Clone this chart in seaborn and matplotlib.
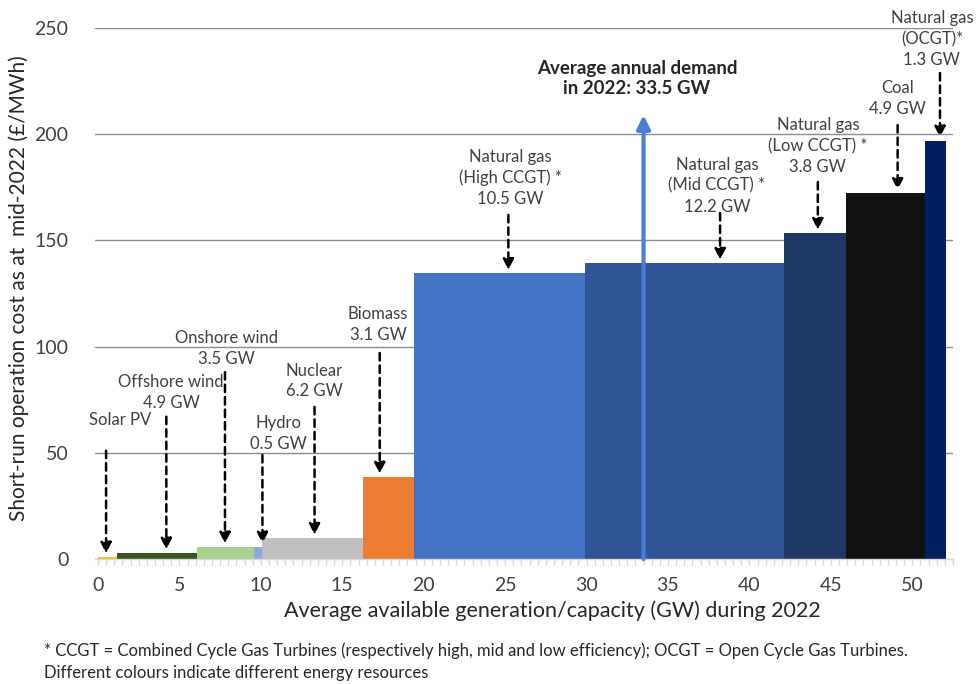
import numpy as np
import seaborn as sns
from matplotlib import pyplot as plt
from matplotlib.ticker import MultipleLocator

sns.set_theme(style="white")
plt.rcParams['font.family'] = ['Lato', 'DejaVu Sans']

# Merit order data
sources = ["Solar PV", "Offshore wind", "Onshore wind", "Hydro", "Nuclear", "Biomass",
           "Natural gas (High CCGT)", "Natural gas (Mid CCGT)", "Natural gas (Low CCGT)",
           "Coal", "Natural gas (OCGT)"]
capacity_gw = [1.2, 4.9, 3.5, 0.5, 6.2, 3.1, 10.5, 12.2, 3.8, 4.9, 1.3]
cost_gbp_mwh = [1.1, 3.0, 5.8, 5.8, 9.9, 38.7, 134.6, 139.4, 153.5, 172.3, 197.0]
colors = ["#FFC000", "#375623", "#A9D18E", "#8FAADC", "#BFBFBF", "#ED7D31",
          "#4472C4", "#2F5597", "#203864", "#111111", "#002060"]
labels = ["Solar PV", "Offshore wind\n4.9 GW", "Onshore wind\n3.5 GW", "Hydro\n0.5 GW",
          "Nuclear\n6.2 GW", "Biomass\n3.1 GW", "Natural gas\n(High CCGT) *\n10.5 GW",
          "Natural gas\n(Mid CCGT) *\n12.2 GW", "Natural gas\n(Low CCGT) *\n3.8 GW",
          "Coal\n4.9 GW", "Natural gas\n(OCGT)*\n1.3 GW"]
demand_gw = 33.5

# annotation layout: text centre, arrow x, arrow tail y
text_xy = [(1.35, 65.4), (4.5, 78.4), (7.9, 98.9), (11.1, 58.9), (13.3, 83.8), (17.2, 110.6),
           (25.3, 179.4), (38.0, 175.8), (44.2, 194.4), (49.1, 216.6), (51.2, 244.6)]
arrow_x = [0.5, 4.2, 7.8, 10.1, 13.3, 17.3, 25.2, 38.2, 44.2, 49.1, 51.7]
arrow_tail = [51, 67, 88, 49, 71.6, 97, 162, 162.9, 177.5, 204.3, 228.8]

edges = np.concatenate([[0], np.cumsum(capacity_gw)])

fig = plt.figure(figsize=(9.76, 6.84), dpi=100)
ax = fig.add_axes([95 / 976, 1 - 559 / 684, 858 / 976, 531 / 684])

# one weighted single-bin histogram per resource gives a variable-width bar
for i, (src, c, col) in enumerate(zip(sources, cost_gbp_mwh, colors)):
    lo, hi = float(edges[i]), float(edges[i + 1])
    sns.histplot(x=[(lo + hi) / 2], weights=[c], bins=[lo, hi], color=col,
                 alpha=1, linewidth=0, ax=ax, zorder=2, label=src)

ax.set_xlim(-0.18, 52.5)
ax.set_ylim(0, 250)
ax.set_axisbelow(True)
ax.grid(axis='y', color='#8C8C8C', lw=1)
ax.grid(axis='x', visible=False)
for s in ["top", "right", "left"]:
    ax.spines[s].set_visible(False)
ax.spines["bottom"].set_color("#D9D9D9")
ax.spines["bottom"].set_linewidth(1)

ax.xaxis.set_major_locator(MultipleLocator(5))
ax.xaxis.set_minor_locator(MultipleLocator(0.5))
ax.yaxis.set_major_locator(MultipleLocator(50))
ax.tick_params(axis='x', which='both', bottom=True, length=4, width=1, color='#D9D9D9',
               labelsize=14, labelcolor='#404040', pad=9)
ax.tick_params(axis='y', left=False, labelsize=14, labelcolor='#404040', pad=13)

ax.set_xlabel("Average available generation/capacity (GW) during 2022", fontsize=15.5, color='#262626')
ax.xaxis.set_label_coords((552 - 95) / 858, -0.078)
ax.set_ylabel("Short-run operation cost as at  mid-2022 (£/MWh)", fontsize=15, color='#262626')
ax.yaxis.set_label_coords(-0.077, 0.51)

# labelled dashed arrows down to each bar
for lbl, (tx, ty), ax_x, tail, c in zip(labels, text_xy, arrow_x, arrow_tail, cost_gbp_mwh):
    ax.text(tx, ty, lbl, ha='center', va='center', fontsize=12, color='#404040',
            linespacing=1.38, clip_on=False)
    ax.annotate("", xy=(ax_x, c + 1.5), xytext=(ax_x, tail),
                arrowprops=dict(arrowstyle="-|>", color="black", lw=1.8,
                                linestyle=(0, (3, 2)), mutation_scale=16,
                                shrinkA=0, shrinkB=0), zorder=4)

# average demand arrow
ax.annotate("", xy=(demand_gw, 209), xytext=(demand_gw, 0),
            arrowprops=dict(arrowstyle="-|>", color="#4A7DD6", lw=3.0,
                            mutation_scale=20, shrinkA=0, shrinkB=0), zorder=5)
ax.text(33.1, 226.2, f"Average annual demand\nin 2022: {demand_gw} GW", ha='center',
        va='center', fontsize=13.5, fontweight='bold', color='#262626', linespacing=1.25)

fig.text(44 / 976, 1 - 651 / 684,
         "* CCGT = Combined Cycle Gas Turbines (respectively high, mid and low efficiency); "
         "OCGT = Open Cycle Gas Turbines.", fontsize=12, color='#262626', va='center')
fig.text(44 / 976, 1 - 673 / 684, "Different colours indicate different energy resources",
         fontsize=12, color='#262626', va='center')

fig.savefig("out.png", dpi=100)
